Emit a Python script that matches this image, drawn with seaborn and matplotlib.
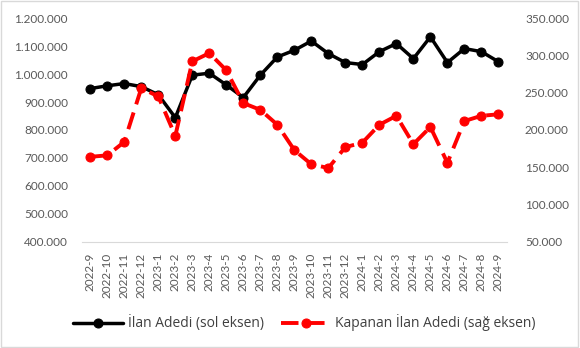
import pandas as pd
import matplotlib.pyplot as plt
import matplotlib.ticker as mticker
import seaborn as sns

months = ["2022-9", "2022-10", "2022-11", "2022-12", "2023-1", "2023-2", "2023-3",
          "2023-4", "2023-5", "2023-6", "2023-7", "2023-8", "2023-9", "2023-10",
          "2023-11", "2023-12", "2024-1", "2024-2", "2024-3", "2024-4", "2024-5",
          "2024-6", "2024-7", "2024-8", "2024-9"]
ilan_adedi = [948000, 958000, 966000, 955000, 926000, 844000, 996000, 1003000, 961000,
              916000, 996000, 1061000, 1085000, 1118000, 1073000, 1041000, 1034000,
              1080000, 1109000, 1055000, 1133000, 1041000, 1091000, 1080000, 1044000]
kapanan_adedi = [164000, 166000, 184000, 256000, 245000, 192000, 292000, 303000, 280000,
                 236000, 227000, 207000, 173000, 154000, 149000, 177000, 183000, 207000,
                 219000, 181000, 204000, 156000, 212000, 219000, 221000]

sns.set_style("white")
plt.rcParams['font.family'] = ['Lato', 'DejaVu Sans']

df = pd.DataFrame({"ay": months, "ilan": ilan_adedi, "kapanan": kapanan_adedi})
df["x"] = range(len(df))

fig = plt.figure(figsize=(5.8, 3.48), dpi=100)
ax = fig.add_axes([0.141, 0.305, 0.733, 0.643])
ax2 = ax.twinx()

sns.lineplot(data=df, x="x", y="ilan", ax=ax, color="black", linewidth=2.5,
             marker="o", markersize=6.5, markeredgecolor="black",
             label="İlan Adedi (sol eksen)", legend=False)
sns.lineplot(data=df, x="x", y="kapanan", ax=ax2, color="#ff0000", linewidth=2.8,
             marker="o", markersize=6.5, markeredgecolor="#ff0000", dashes=False,
             label="Kapanan İlan Adedi (sağ eksen)", legend=False)
ax2.lines[0].set_dashes([4.5, 2.2])

fmt = mticker.FuncFormatter(lambda v, p: f"{int(v):,}".replace(",", "."))
ax.set_ylim(400000, 1200000)
ax.yaxis.set_major_locator(mticker.MultipleLocator(100000))
ax.yaxis.set_major_formatter(fmt)
ax2.set_ylim(50000, 350000)
ax2.yaxis.set_major_locator(mticker.MultipleLocator(50000))
ax2.yaxis.set_major_formatter(fmt)

ax.set_xlim(-0.5, len(months) - 0.5)
ax.set_xticks(df["x"])
ax.set_xticklabels(months, rotation=90)
ax.set_xlabel("")
ax.set_ylabel("")
ax2.set_ylabel("")

for a in (ax, ax2):
    for s in a.spines.values():
        s.set_visible(False)
    a.tick_params(length=0, labelsize=8.5, colors="#595959")
ax.spines["bottom"].set_visible(True)
ax.spines["bottom"].set_color("#d9d9d9")
ax.tick_params(axis="y", pad=10)
ax2.tick_params(axis="y", pad=13)
ax.tick_params(axis="x", pad=8)

h1, l1 = ax.get_legend_handles_labels()
h2, l2 = ax2.get_legend_handles_labels()
fig.legend(h1 + h2, l1 + l2, loc="center", bbox_to_anchor=(0.525, 0.072), ncol=2,
           frameon=False, handlelength=3.6, handletextpad=0.35, columnspacing=1.2,
           labelcolor="#404040", prop={"family": ["Open Sans", "DejaVu Sans"], "size": 10})

fig.patches.append(plt.Rectangle((0.002, 0.003), 0.995, 0.994, transform=fig.transFigure,
                                 fill=False, edgecolor="#d9d9d9", linewidth=1))

fig.savefig("out.png", dpi=100)
